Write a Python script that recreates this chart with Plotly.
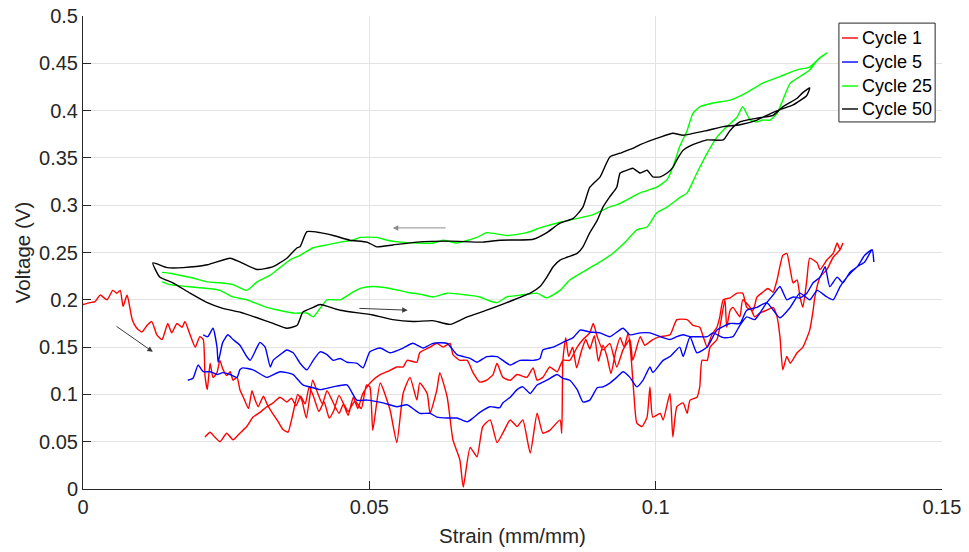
import plotly.graph_objects as go

# ---------------- data (strain in mm/mm, voltage in V) ----------------
# Cycle 1 (red): loading from x=0, noisy return ending near (0.021, 0.057)
c1_x = [0.0, 0.0012, 0.0021, 0.0030, 0.0042, 0.0052, 0.0059, 0.0065, 0.0070, 0.0077, 0.0086, 0.0094, 0.0103, 0.0112, 0.0120,
        0.0129, 0.0138, 0.0143, 0.0148, 0.0155, 0.0164, 0.0173, 0.0178, 0.0187, 0.0196, 0.0204, 0.0210, 0.0213, 0.0217, 0.0222,
        0.0227, 0.0234, 0.0239, 0.0244, 0.0251, 0.0257, 0.0262, 0.0269, 0.0274, 0.0280, 0.0289, 0.0295, 0.0300, 0.0306, 0.0315,
        0.0322, 0.0331, 0.0340, 0.0349, 0.0358, 0.0366, 0.0375, 0.0382, 0.0390, 0.0401, 0.0410, 0.0418, 0.0426, 0.0434, 0.0447,
        0.0455, 0.0463, 0.0475, 0.0486, 0.0495, 0.0501,
        0.0506, 0.0519, 0.0536, 0.0548, 0.0559, 0.0571, 0.0583, 0.0588, 0.0601, 0.0606, 0.0618, 0.0623, 0.0636, 0.0646, 0.0658,
        0.0664, 0.0676, 0.0688, 0.0698, 0.0711, 0.0723, 0.0733, 0.0746, 0.0758, 0.0768, 0.0781, 0.0793, 0.0803, 0.0815, 0.0833, 0.0836,
        0.0838, 0.0843, 0.0848, 0.0855, 0.0862, 0.0870, 0.0878, 0.0885, 0.0893, 0.0900, 0.0908, 0.0915, 0.0922, 0.0930, 0.0938,
        0.0945, 0.0952, 0.0957, 0.0962,
        0.0967, 0.0976, 0.0985, 0.0990, 0.0995, 0.1008, 0.1013, 0.1025, 0.1030, 0.1037, 0.1048, 0.1055, 0.1060, 0.1072, 0.1077,
        0.1081, 0.1090, 0.1095, 0.1107, 0.1112, 0.1121, 0.1124, 0.1130, 0.1135, 0.1147, 0.1152, 0.1165, 0.1173, 0.1182, 0.1194,
        0.1205, 0.1212, 0.1217, 0.1222, 0.1229, 0.1235, 0.1247, 0.1257, 0.1269, 0.1275, 0.1278, 0.1287, 0.1299, 0.1310, 0.1322, 0.1327,
        0.1322, 0.1317, 0.1310, 0.1299, 0.1287, 0.1282, 0.1269, 0.1264, 0.1257, 0.1252, 0.1247, 0.1240, 0.1235, 0.1229, 0.1222,
        0.1212, 0.1205, 0.1196, 0.1187, 0.1177, 0.1170, 0.1159, 0.1152, 0.1142, 0.1130, 0.1118, 0.1112, 0.1107, 0.1098, 0.1090,
        0.1083, 0.1077, 0.1065, 0.1055, 0.1037, 0.1025, 0.1008, 0.0995, 0.0981, 0.0973,
        0.0960, 0.0955, 0.0943, 0.0932, 0.0920, 0.0908, 0.0898, 0.0891, 0.0885, 0.0873, 0.0863, 0.0850, 0.0838, 0.0828, 0.0815,
        0.0803, 0.0793, 0.0786, 0.0775, 0.0758, 0.0746, 0.0733, 0.0723, 0.0716, 0.0705, 0.0693, 0.0681, 0.0671, 0.0658, 0.0646,
        0.0641, 0.0629, 0.0618, 0.0606, 0.0588, 0.0583, 0.0566, 0.0559, 0.0548, 0.0531, 0.0519, 0.0506, 0.0496,
        0.0488, 0.0480, 0.0472, 0.0463, 0.0455, 0.0447, 0.0438, 0.0430, 0.0421, 0.0412, 0.0403, 0.0395, 0.0388, 0.0380, 0.0372,
        0.0364, 0.0356,
        0.0344, 0.0332, 0.0321, 0.0309, 0.0297, 0.0286, 0.0274, 0.0262, 0.0251, 0.0239, 0.0230, 0.0222, 0.0213]
c1_y = [0.195, 0.197, 0.198, 0.205, 0.200, 0.210, 0.207, 0.210, 0.193, 0.205, 0.179, 0.170, 0.166, 0.173, 0.177,
        0.163, 0.158, 0.166, 0.175, 0.165, 0.175, 0.171, 0.177, 0.163, 0.150, 0.161, 0.158, 0.120, 0.105, 0.133,
        0.118, 0.123, 0.136, 0.127, 0.120, 0.124, 0.115, 0.118, 0.105, 0.097, 0.085, 0.104, 0.095, 0.087, 0.098,
        0.089, 0.080, 0.072, 0.063, 0.060, 0.078, 0.100, 0.094, 0.075, 0.115, 0.101, 0.090, 0.104, 0.095, 0.080,
        0.090, 0.082, 0.093, 0.085, 0.110, 0.108,
        0.062, 0.112, 0.084, 0.049, 0.101, 0.118, 0.094, 0.112, 0.101, 0.080, 0.105, 0.123, 0.097, 0.052, 0.031,
        0.002, 0.044, 0.034, 0.066, 0.073, 0.049, 0.059, 0.073, 0.066, 0.073, 0.038, 0.080, 0.059, 0.062, 0.073, 0.059,
        0.136, 0.160, 0.140, 0.150, 0.128, 0.145, 0.158, 0.148, 0.162, 0.135, 0.152, 0.140, 0.122, 0.145, 0.160,
        0.150, 0.165, 0.140, 0.100,
        0.070, 0.066, 0.076, 0.108, 0.076, 0.080, 0.073, 0.101, 0.055, 0.087, 0.091, 0.080, 0.094, 0.097, 0.108,
        0.136, 0.136, 0.150, 0.158, 0.171, 0.200, 0.171, 0.189, 0.192, 0.182, 0.200, 0.192, 0.182, 0.186, 0.189,
        0.192, 0.182, 0.161, 0.126, 0.140, 0.133, 0.144, 0.150, 0.168, 0.189, 0.203, 0.224, 0.232, 0.245, 0.253, 0.260,
        0.253, 0.260, 0.249, 0.242, 0.232, 0.239, 0.244, 0.221, 0.192, 0.203, 0.221, 0.218, 0.232, 0.249, 0.247,
        0.221, 0.208, 0.212, 0.208, 0.203, 0.189, 0.192, 0.207, 0.207, 0.202, 0.200, 0.182, 0.171, 0.163, 0.150,
        0.161, 0.171, 0.173, 0.179, 0.179, 0.163, 0.161, 0.158, 0.152, 0.161,
        0.136, 0.158, 0.147, 0.129, 0.154, 0.147, 0.161, 0.175, 0.165, 0.158, 0.150, 0.136, 0.136, 0.124, 0.129,
        0.118, 0.115, 0.128, 0.118, 0.121, 0.115, 0.118, 0.133, 0.121, 0.115, 0.113, 0.123, 0.136, 0.136, 0.142,
        0.154, 0.150, 0.154, 0.150, 0.144, 0.134, 0.136, 0.129, 0.129, 0.124, 0.121, 0.115, 0.108,
        0.100, 0.085, 0.097, 0.078, 0.090, 0.099, 0.083, 0.075, 0.092, 0.082, 0.097, 0.108, 0.090, 0.098, 0.088,
        0.096, 0.092,
        0.097, 0.091, 0.087, 0.081, 0.076, 0.066, 0.059, 0.052, 0.059, 0.050, 0.055, 0.060, 0.055]

# Cycle 5 (blue)
c5_x = [0.0183, 0.0192, 0.0201, 0.0210, 0.0222, 0.0234, 0.0244, 0.0257, 0.0269, 0.0274, 0.0279, 0.0297, 0.0321, 0.0344, 0.0367,
        0.0384, 0.0402, 0.0414, 0.0437, 0.0461, 0.0478, 0.0496, 0.0524, 0.0548, 0.0566, 0.0588, 0.0606, 0.0618, 0.0636, 0.0653,
        0.0671, 0.0681, 0.0693, 0.0711, 0.0728, 0.0733, 0.0746, 0.0758, 0.0768, 0.0781, 0.0793, 0.0810, 0.0828, 0.0838, 0.0850,
        0.0863, 0.0873, 0.0885, 0.0898, 0.0908, 0.0920, 0.0932, 0.0943, 0.0955, 0.0967, 0.0978, 0.0990, 0.0995, 0.1013, 0.1025,
        0.1042, 0.1048, 0.1060, 0.1072, 0.1090, 0.1107, 0.1130, 0.1147, 0.1159, 0.1177, 0.1194, 0.1217, 0.1235, 0.1252, 0.1269,
        0.1282, 0.1299, 0.1310, 0.1322, 0.1334, 0.1352, 0.1365, 0.1378, 0.1381,
        0.1378, 0.1365, 0.1352, 0.1339, 0.1327, 0.1317, 0.1304, 0.1296, 0.1287, 0.1275, 0.1264, 0.1252, 0.1240, 0.1229, 0.1217,
        0.1205, 0.1194, 0.1182, 0.1173, 0.1159, 0.1147, 0.1135, 0.1118, 0.1100, 0.1090, 0.1072, 0.1060, 0.1048, 0.1037, 0.1025,
        0.1008, 0.0990, 0.0973, 0.0955, 0.0943, 0.0920, 0.0903, 0.0885, 0.0868, 0.0856, 0.0838, 0.0821, 0.0803, 0.0798, 0.0786,
        0.0763, 0.0746, 0.0723, 0.0705, 0.0688, 0.0676, 0.0653, 0.0636, 0.0611, 0.0594, 0.0576, 0.0559, 0.0536, 0.0519, 0.0501,
        0.0489, 0.0478, 0.0461, 0.0449, 0.0437, 0.0426, 0.0414, 0.0402, 0.0391, 0.0379, 0.0367, 0.0356, 0.0344, 0.0332, 0.0327,
        0.0318, 0.0309, 0.0304, 0.0292, 0.0286, 0.0274, 0.0262, 0.0253, 0.0244, 0.0236, 0.0234, 0.0227, 0.0218, 0.0210]
c5_y = [0.115, 0.117, 0.131, 0.124, 0.124, 0.121, 0.123, 0.121, 0.118, 0.126, 0.128, 0.126, 0.118, 0.124, 0.121,
        0.110, 0.107, 0.105, 0.108, 0.110, 0.094, 0.094, 0.091, 0.087, 0.089, 0.080, 0.080, 0.076, 0.075, 0.075,
        0.071, 0.075, 0.081, 0.087, 0.086, 0.091, 0.097, 0.105, 0.108, 0.101, 0.110, 0.115, 0.121, 0.117, 0.115,
        0.105, 0.092, 0.094, 0.107, 0.108, 0.112, 0.118, 0.124, 0.118, 0.108, 0.115, 0.129, 0.123, 0.136, 0.140,
        0.150, 0.140, 0.161, 0.144, 0.150, 0.168, 0.175, 0.175, 0.189, 0.192, 0.197, 0.181, 0.192, 0.207, 0.200,
        0.210, 0.203, 0.200, 0.214, 0.224, 0.235, 0.240, 0.253, 0.240,
        0.253, 0.247, 0.235, 0.229, 0.218, 0.224, 0.214, 0.235, 0.224, 0.218, 0.207, 0.202, 0.203, 0.200, 0.214,
        0.205, 0.197, 0.186, 0.179, 0.182, 0.173, 0.161, 0.160, 0.165, 0.161, 0.161, 0.161, 0.163, 0.161, 0.158,
        0.161, 0.165, 0.165, 0.163, 0.170, 0.161, 0.165, 0.166, 0.168, 0.160, 0.155, 0.150, 0.147, 0.138, 0.136,
        0.136, 0.131, 0.140, 0.140, 0.134, 0.138, 0.142, 0.154, 0.154, 0.149, 0.154, 0.149, 0.144, 0.149, 0.145,
        0.128, 0.133, 0.134, 0.138, 0.136, 0.142, 0.145, 0.136, 0.126, 0.133, 0.144, 0.147, 0.142, 0.136, 0.129,
        0.150, 0.155, 0.150, 0.136, 0.140, 0.152, 0.158, 0.163, 0.155, 0.134, 0.150, 0.170, 0.161, 0.163]

# Cycle 25 (green): lower loading branch then upper unloading branch
c25_x = [0.0138, 0.0152, 0.0182, 0.0217, 0.0239, 0.0262, 0.0286, 0.0321, 0.0367, 0.0391, 0.0402, 0.0414, 0.0426, 0.0449, 0.0471,
         0.0484, 0.0506, 0.0536, 0.0566, 0.0588, 0.0611, 0.0636, 0.0671, 0.0693, 0.0705, 0.0723, 0.0740, 0.0763, 0.0793, 0.0810,
         0.0833, 0.0850, 0.0880, 0.0908, 0.0925, 0.0950, 0.0967, 0.0985, 0.1002, 0.1020, 0.1042, 0.1055, 0.1072, 0.1090, 0.1107,
         0.1124, 0.1142, 0.1152, 0.1165, 0.1177, 0.1187, 0.1200, 0.1212, 0.1222, 0.1235, 0.1252, 0.1269, 0.1282, 0.1299,
         0.1287, 0.1269, 0.1247, 0.1217, 0.1187, 0.1159, 0.1130, 0.1100, 0.1077, 0.1065, 0.1055, 0.1042, 0.1030, 0.1020, 0.1002,
         0.0973, 0.0938, 0.0915, 0.0891, 0.0863, 0.0833, 0.0798, 0.0775, 0.0740, 0.0705, 0.0688, 0.0653, 0.0629, 0.0611, 0.0583,
         0.0554, 0.0531, 0.0513, 0.0484, 0.0471, 0.0449, 0.0426, 0.0402, 0.0379, 0.0361, 0.0344, 0.0327, 0.0304, 0.0286, 0.0262,
         0.0239, 0.0217, 0.0192, 0.0169, 0.0152, 0.0138]
c25_y = [0.219, 0.216, 0.214, 0.212, 0.210, 0.203, 0.200, 0.192, 0.186, 0.186, 0.182, 0.191, 0.200, 0.200, 0.208,
         0.212, 0.214, 0.212, 0.208, 0.206, 0.203, 0.207, 0.205, 0.203, 0.200, 0.197, 0.203, 0.205, 0.207, 0.202,
         0.210, 0.221, 0.232, 0.242, 0.249, 0.263, 0.274, 0.277, 0.292, 0.298, 0.308, 0.313, 0.334, 0.355, 0.372,
         0.383, 0.393, 0.404, 0.390, 0.388, 0.390, 0.390, 0.397, 0.411, 0.429, 0.436, 0.443, 0.453, 0.461,
         0.456, 0.446, 0.443, 0.436, 0.429, 0.419, 0.411, 0.408, 0.404, 0.397, 0.379, 0.362, 0.340, 0.327, 0.319,
         0.313, 0.302, 0.297, 0.290, 0.286, 0.282, 0.276, 0.271, 0.268, 0.271, 0.266, 0.260, 0.263, 0.260, 0.260,
         0.261, 0.263, 0.266, 0.266, 0.263, 0.261, 0.258, 0.255, 0.247, 0.242, 0.234, 0.226, 0.219, 0.210, 0.216,
         0.218, 0.219, 0.223, 0.226, 0.228, 0.229]

# Cycle 50 (black): lower loading branch then upper unloading branch
c50_x = [0.0122, 0.0134, 0.0157, 0.0187, 0.0217, 0.0244, 0.0274, 0.0304, 0.0332, 0.0356, 0.0374, 0.0384, 0.0402, 0.0414, 0.0449,
         0.0506, 0.0541, 0.0576, 0.0611, 0.0641, 0.0671, 0.0705, 0.0740, 0.0781, 0.0798, 0.0810, 0.0821, 0.0833, 0.0845, 0.0863,
         0.0873, 0.0885, 0.0898, 0.0908, 0.0920, 0.0932, 0.0938, 0.0950, 0.0960, 0.0973, 0.0985, 0.0995, 0.1008, 0.1020, 0.1030,
         0.1037, 0.1048, 0.1065, 0.1090, 0.1118, 0.1130, 0.1147, 0.1177, 0.1205, 0.1222, 0.1247, 0.1257, 0.1269,
         0.1264, 0.1240, 0.1217, 0.1194, 0.1177, 0.1147, 0.1118, 0.1090, 0.1048, 0.1030, 0.1008, 0.0973, 0.0960, 0.0938, 0.0920,
         0.0903, 0.0885, 0.0873, 0.0856, 0.0833, 0.0810, 0.0786, 0.0728, 0.0698, 0.0641, 0.0583, 0.0541, 0.0513, 0.0496, 0.0466,
         0.0437, 0.0414, 0.0391, 0.0379, 0.0374, 0.0356, 0.0332, 0.0304, 0.0274, 0.0257, 0.0217, 0.0175, 0.0147, 0.0122]
c50_y = [0.239, 0.224, 0.218, 0.207, 0.197, 0.191, 0.187, 0.181, 0.175, 0.170, 0.173, 0.187, 0.192, 0.195, 0.189,
         0.184, 0.179, 0.177, 0.178, 0.174, 0.182, 0.189, 0.197, 0.207, 0.214, 0.224, 0.235, 0.242, 0.245, 0.249,
         0.256, 0.271, 0.284, 0.298, 0.309, 0.319, 0.334, 0.337, 0.339, 0.334, 0.337, 0.330, 0.330, 0.334, 0.340,
         0.348, 0.358, 0.364, 0.369, 0.369, 0.379, 0.388, 0.392, 0.395, 0.404, 0.413, 0.419, 0.424,
         0.416, 0.406, 0.401, 0.395, 0.390, 0.385, 0.383, 0.379, 0.374, 0.376, 0.372, 0.364, 0.360, 0.355, 0.351,
         0.330, 0.319, 0.298, 0.286, 0.281, 0.271, 0.264, 0.263, 0.261, 0.262, 0.261, 0.258, 0.256, 0.261, 0.263,
         0.268, 0.271, 0.272, 0.256, 0.255, 0.244, 0.235, 0.232, 0.240, 0.244, 0.237, 0.234, 0.234, 0.239]

series_names = ["Cycle 1", "Cycle 5", "Cycle 25", "Cycle 50"]
series_colors = ["#ff0000", "#0000ff", "#00ff00", "#000000"]

x_ticks = [0, 0.05, 0.1, 0.15]
x_tick_text = ["0", "0.05", "0.1", "0.15"]
y_ticks = [0, 0.05, 0.1, 0.15, 0.2, 0.25, 0.3, 0.35, 0.4, 0.45, 0.5]
y_tick_text = ["0", "0.05", "0.1", "0.15", "0.2", "0.25", "0.3", "0.35", "0.4", "0.45", "0.5"]

# arrows: (head_x, head_y, tail_x, tail_y, colour)
arrows = [
    (0.0122, 0.145, 0.0056, 0.173, "#3a3a3a"),
    (0.0541, 0.276, 0.0636, 0.276, "#8c8c8c"),
    (0.0567, 0.189, 0.0480, 0.191, "#3a3a3a"),
]

# ---------------- figure ----------------
fig = go.Figure()
for name, col, xs, ys in zip(series_names, series_colors,
                             [c1_x, c5_x, c25_x, c50_x], [c1_y, c5_y, c25_y, c50_y]):
    fig.add_trace(go.Scatter(x=xs, y=ys, mode="lines", name=name, showlegend=False,
                             line=dict(color=col, width=1.4, shape="spline", smoothing=0.5)))

for hx, hy, tx, ty, col in arrows:
    fig.add_annotation(x=hx, y=hy, ax=tx, ay=ty, xref="x", yref="y", axref="x", ayref="y",
                       text="", showarrow=True, arrowhead=2, arrowsize=1.1, arrowwidth=1, arrowcolor=col)

font_family = "Arial, Liberation Sans, sans-serif"

# legend box (drawn in the top-right corner of the axes, paper coordinates)
leg_x0, leg_x1, leg_y0, leg_y1 = 0.880, 0.992, 0.776, 0.985
fig.add_shape(type="rect", xref="paper", yref="paper", x0=leg_x0, x1=leg_x1, y0=leg_y0, y1=leg_y1,
              line=dict(color="#262626", width=1), fillcolor="white", layer="above")
leg_rows = [0.9535, 0.9027, 0.852, 0.8034]
for name, col, ry in zip(series_names, series_colors, leg_rows):
    fig.add_shape(type="line", xref="paper", yref="paper", x0=0.8836, x1=0.9022, y0=ry, y1=ry,
                  line=dict(color=col, width=1.4), layer="above")
    fig.add_annotation(x=0.9046, y=ry, xref="paper", yref="paper", text=name, showarrow=False,
                       xanchor="left", yanchor="middle",
                       font=dict(family=font_family, size=18, color="#000000"))

axis_common = dict(showline=True, linecolor="#262626", linewidth=1, mirror=False,
                   showgrid=True, gridcolor="#e3e3e3", gridwidth=1, zeroline=False,
                   ticks="inside", ticklen=8, tickcolor="#262626", tickwidth=1,
                   tickfont=dict(family=font_family, size=20, color="#262626"))

fig.update_xaxes(range=[0, 0.15], tickvals=x_ticks, ticktext=x_tick_text,
                 title=dict(text="Strain (mm/mm)", standoff=11,
                            font=dict(family=font_family, size=20.5, color="#262626")),
                 **axis_common)
fig.update_yaxes(range=[0, 0.5], tickvals=y_ticks, ticktext=y_tick_text,
                 title=dict(text="Voltage (V)", standoff=2,
                            font=dict(family=font_family, size=20.5, color="#262626")),
                 **axis_common)

fig.update_layout(
    width=969, height=552,
    margin=dict(l=83, r=27, t=16, b=63, autoexpand=False),
    paper_bgcolor="white", plot_bgcolor="white",
    showlegend=False,
)

fig.write_html("out.html")
